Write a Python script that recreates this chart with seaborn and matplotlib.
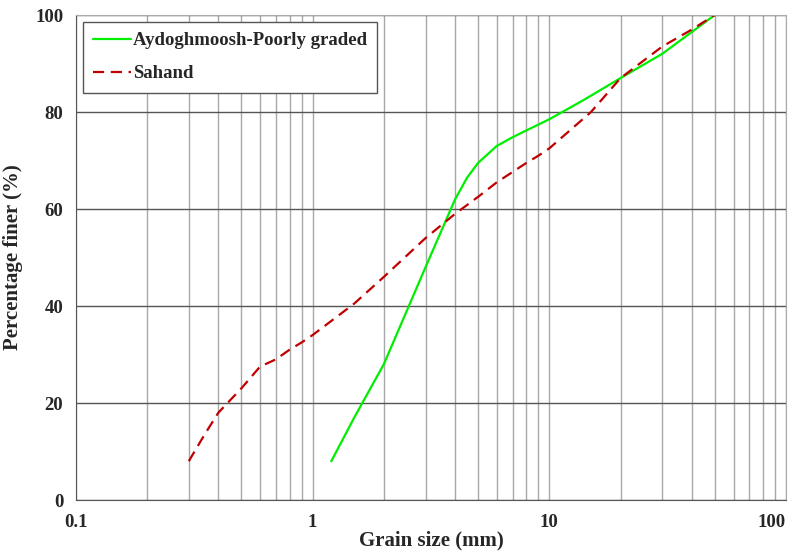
import matplotlib
matplotlib.use("Agg")
import matplotlib.pyplot as plt
import seaborn as sns
import pandas as pd
from matplotlib.ticker import LogLocator, FixedLocator, NullFormatter
from matplotlib.lines import Line2D

green_size = [1.2, 1.5, 2.0, 2.5, 3.0, 3.5, 4.0, 4.5, 5.0, 6.0, 7.0, 8.0, 10.0, 14.0, 20.0, 30.0, 40.0, 50.0]
green_pass = [8.0, 17.0, 28.0, 39.0, 48.0, 55.5, 62.0, 66.5, 69.5, 73.0, 74.8, 76.2, 78.5, 82.5, 87.0, 92.0, 96.5, 100.0]
red_size = [0.3, 0.35, 0.4, 0.5, 0.6, 0.7, 0.8, 0.9, 1.0, 1.5, 2.0, 3.0, 4.0, 5.0, 6.0, 8.0, 9.0, 10.0, 15.0, 20.0, 30.0, 40.0, 50.0]
red_pass = [8.0, 13.5, 18.0, 23.0, 27.5, 29.0, 31.0, 32.5, 34.0, 40.5, 46.0, 54.0, 59.0, 62.5, 65.5, 69.5, 71.0, 72.5, 80.0, 87.0, 93.5, 97.0, 100.0]
series_names = ["Aydoghmoosh-Poorly graded", "Sahand"]

df = pd.concat([
    pd.DataFrame({"size": green_size, "pass": green_pass, "soil": series_names[0]}),
    pd.DataFrame({"size": red_size, "pass": red_pass, "soil": series_names[1]}),
])

sns.set_style("white")
plt.rcParams["font.family"] = ["Liberation Serif", "DejaVu Serif"]
plt.rcParams["font.weight"] = "bold"

fig = plt.figure(figsize=(7.98, 5.56), dpi=100)
ax = fig.add_axes([0.095, 0.1007, 0.89, 0.8723])

sns.lineplot(data=df, x="size", y="pass", hue="soil", style="soil",
             palette=["#00ee00", "#c00000"], dashes=[(None, None), (5, 3)],
             linewidth=1.6, sort=False, ax=ax, legend=False)
ax.set_xscale("log")
ax.set_xlim(0.1, 100)
ax.set_ylim(0, 100)

ax.xaxis.set_major_locator(FixedLocator([0.1, 1, 10, 100]))
ax.set_xticklabels(["0.1", "1", "10", "100"])
ax.xaxis.set_minor_locator(LogLocator(base=10, subs=range(2, 10)))
ax.xaxis.set_minor_formatter(NullFormatter())
ax.set_yticks([0, 20, 40, 60, 80, 100])

ax.grid(True, which="both", axis="x", color="#a8a8a8", linewidth=1.0)
ax.grid(True, which="major", axis="y", color="#555555", linewidth=1.0)
ax.set_axisbelow(True)

ax.tick_params(axis="x", which="major", direction="out", length=5, width=1, color="#777777", labelsize=13.5, pad=5)
ax.tick_params(axis="x", which="minor", length=0)
ax.tick_params(axis="y", direction="out", length=5, width=1, color="#777777", labelsize=13.5, pad=4)
for lab in ax.get_xticklabels() + ax.get_yticklabels():
    lab.set_fontweight("bold")
ax.get_xticklabels()[-1].set_horizontalalignment("right")
ax.get_xticklabels()[-1].set_x(100)

for s in ["left", "bottom"]:
    ax.spines[s].set_color("#555555")
for s in ["top", "right"]:
    ax.spines[s].set_color("#aaaaaa")

ax.set_xlabel("Grain size (mm)", fontsize=15, fontweight="bold", labelpad=0)
ax.set_ylabel("Percentage finer (%)", fontsize=15, fontweight="bold", labelpad=9)

handles = [Line2D([], [], color="#00ee00", lw=1.6),
           Line2D([], [], color="#c00000", lw=1.6, dashes=(5, 3))]
leg = ax.legend(handles, series_names, loc="upper left", bbox_to_anchor=(0.01, 0.986),
                frameon=True, fancybox=False, edgecolor="#555555", framealpha=1,
                prop={"weight": "bold", "size": 13.5}, handlelength=2.0, handletextpad=0.1,
                borderpad=0.55, labelspacing=0.85, borderaxespad=0)
leg.get_frame().set_linewidth(1.0)

fig.savefig("out.png", dpi=100)
